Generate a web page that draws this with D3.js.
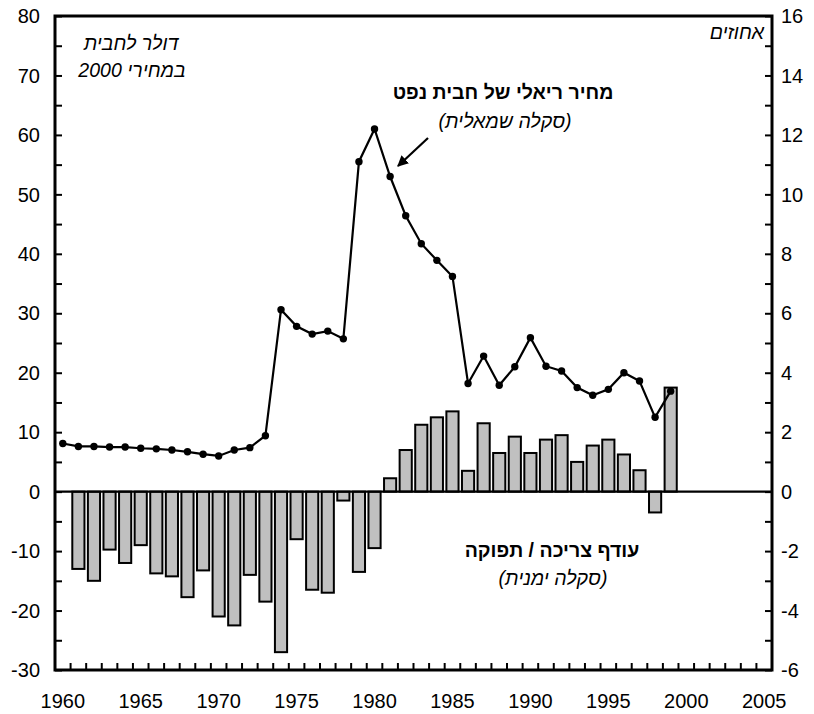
<!DOCTYPE html>
<html>
<head>
<meta charset="utf-8">
<script src="https://cdn.jsdelivr.net/npm/d3@7"></script>
<style>
  body { margin: 0; background: #fff; }
  svg text { font-family: "Liberation Sans", Arial, sans-serif; fill: #000; }
  .tick-label { font-size: 20px; }
  .note { font-size: 19.5px; font-style: italic; }
  .title { font-size: 19.5px; font-weight: bold; }
</style>
</head>
<body>
<svg id="chart"></svg>
<script>
/* global d3 */
const W = 814;
const H = 714;
const MARGIN = { top: 16, bottom: 44, left: 55, right: 42 };

// categories (slots on the x axis)
const years = d3.range(1960, 2006);
const labelYears = [1960, 1965, 1970, 1975, 1980, 1985, 1990, 1995, 2000, 2005];

// real price per barrel, 2000 dollars (left scale) 1960-1999
const priceYears = d3.range(1960, 2000);
const price = [
  8.1, 7.6, 7.6, 7.5, 7.5, 7.3, 7.2, 7.0, 6.7, 6.3,
  6.0, 7.0, 7.4, 9.4, 30.6, 27.8, 26.5, 27.0, 25.7, 55.5,
  61.0, 53.0, 46.4, 41.7, 38.9, 36.2, 18.2, 22.8, 17.9, 21.0,
  25.9, 21.1, 20.3, 17.5, 16.2, 17.2, 20.0, 18.6, 12.5, 16.9
];

// excess demand / supply, percent (right scale) 1961-1999
const gapYears = d3.range(1961, 2000);
const gap = [
  -2.6, -3.0, -1.95, -2.4, -1.8, -2.75, -2.85, -3.55, -2.65, -4.2,
  -4.5, -2.8, -3.7, -5.4, -1.6, -3.3, -3.4, -0.3, -2.7, -1.9,
  0.45, 1.4, 2.25, 2.5, 2.7, 0.7, 2.3, 1.3, 1.85, 1.3,
  1.75, 1.9, 1.0, 1.55, 1.75, 1.25, 0.72, -0.7, 3.5
];

const leftTicks = d3.range(-30, 81, 10);
const rightTicks = d3.range(-6, 17, 2);

const width = W - MARGIN.left - MARGIN.right;
const height = H - MARGIN.top - MARGIN.bottom;

const $svg = d3.select('#chart').attr('width', W).attr('height', H);

function getScaleX() {
  return d3.scaleBand()
    .domain(years)
    .range([MARGIN.left, MARGIN.left + width])
    .paddingInner(0.22)
    .paddingOuter(0.11);
}

function getSlotX() {
  return d3.scaleBand()
    .domain(years)
    .range([MARGIN.left, MARGIN.left + width]);
}

function getScaleLeft() {
  return d3.scaleLinear().domain([-30, 80]).range([MARGIN.top + height, MARGIN.top]);
}

function getScaleRight() {
  return d3.scaleLinear().domain([-6, 16]).range([MARGIN.top + height, MARGIN.top]);
}

function drawBars(scaleX, scaleR) {
  const data = gapYears.map((y, i) => ({ year: y, value: gap[i] }));
  $svg.append('g').attr('class', 'bars')
    .selectAll('rect')
    .data(data)
    .join('rect')
    .attr('x', d => scaleX(d.year))
    .attr('width', scaleX.bandwidth())
    .attr('y', d => scaleR(Math.max(0, d.value)))
    .attr('height', d => Math.abs(scaleR(d.value) - scaleR(0)))
    .attr('fill', '#c0c0c0')
    .attr('stroke', '#000')
    .attr('stroke-width', 2);
}

function drawLine(slotX, scaleL) {
  const data = priceYears.map((y, i) => ({ year: y, value: price[i] }));
  const cx = d => slotX(d.year) + slotX.bandwidth() / 2;
  const line = d3.line().x(cx).y(d => scaleL(d.value));

  const $g = $svg.append('g').attr('class', 'price');
  $g.append('path')
    .datum(data)
    .attr('d', line)
    .attr('fill', 'none')
    .attr('stroke', '#000')
    .attr('stroke-width', 2.2);

  $g.selectAll('circle')
    .data(data)
    .join('circle')
    .attr('cx', cx)
    .attr('cy', d => scaleL(d.value))
    .attr('r', 3.7)
    .attr('fill', '#000');
}

function drawAxes(slotX, scaleL, scaleR) {
  const x0 = MARGIN.left;
  const x1 = MARGIN.left + width;
  const y0 = MARGIN.top;
  const y1 = MARGIN.top + height;
  const TICK = 7;

  // zero line
  $svg.append('line')
    .attr('x1', x0).attr('x2', x1)
    .attr('y1', scaleL(0)).attr('y2', scaleL(0))
    .attr('stroke', '#000').attr('stroke-width', 2.4);

  // left axis: inner ticks every 5, labels every 10
  const $left = $svg.append('g')
    .attr('transform', `translate(${x0},0)`)
    .call(d3.axisRight(scaleL).tickValues(d3.range(-30, 81, 5)).tickSize(TICK).tickFormat(''));
  $left.selectAll('text').remove();

  $svg.append('g').selectAll('text')
    .data(leftTicks)
    .join('text')
    .attr('class', 'tick-label')
    .attr('x', x0 - 15)
    .attr('y', d => scaleL(d))
    .attr('dy', '0.36em')
    .attr('text-anchor', 'end')
    .text(d => d);

  // right axis: inner ticks every 1, labels every 2
  $svg.append('g')
    .attr('transform', `translate(${x1},0)`)
    .call(d3.axisLeft(scaleR).tickValues(d3.range(-6, 17, 1)).tickSize(TICK).tickFormat(''));

  $svg.append('g').selectAll('text')
    .data(rightTicks)
    .join('text')
    .attr('class', 'tick-label')
    .attr('x', x1 + 9)
    .attr('y', d => scaleR(d))
    .attr('dy', '0.36em')
    .attr('text-anchor', 'start')
    .text(d => d);

  // bottom axis: ticks at slot boundaries
  $svg.append('g').selectAll('line')
    .data(years.slice(1))
    .join('line')
    .attr('x1', d => slotX(d)).attr('x2', d => slotX(d))
    .attr('y1', y1).attr('y2', y1 - TICK)
    .attr('stroke', '#000').attr('stroke-width', 2);

  $svg.append('g').selectAll('text')
    .data(labelYears)
    .join('text')
    .attr('class', 'tick-label')
    .attr('x', d => slotX(d) + slotX.bandwidth() / 2)
    .attr('y', y1 + 38)
    .attr('text-anchor', 'middle')
    .text(d => d);

  $svg.selectAll('.domain').remove();
  $svg.selectAll('.tick line').attr('stroke-width', 2);

  // frame
  $svg.append('rect')
    .attr('x', x0).attr('y', y0)
    .attr('width', width).attr('height', height)
    .attr('fill', 'none')
    .attr('stroke', '#000')
    .attr('stroke-width', 3);
}

function drawNotes() {
  const addText = (txt, x, y, cls) => $svg.append('text')
    .attr('class', cls)
    .attr('x', x).attr('y', y)
    .attr('direction', 'rtl')
    .attr('text-anchor', 'middle')
    .text(txt);

  addText('דולר לחבית', 131, 50, 'note');
  addText('במחירי 2000', 132, 77, 'note');

  $svg.append('text')
    .attr('class', 'note')
    .attr('x', 764).attr('y', 39)
    .attr('direction', 'rtl')
    .attr('text-anchor', 'start')
    .text('אחוזים');

  addText('מחיר ריאלי של חבית נפט', 503, 99, 'title');
  addText('(סקלה שמאלית)', 505, 128, 'note');

  addText('עודף צריכה / תפוקה', 552, 557, 'title');
  addText('(סקלה ימנית)', 553, 585, 'note');

  // arrow toward the 1981 point
  $svg.append('defs').append('marker')
    .attr('id', 'arrow')
    .attr('viewBox', '0 0 10 10')
    .attr('refX', 9).attr('refY', 5)
    .attr('markerWidth', 5).attr('markerHeight', 5)
    .attr('orient', 'auto')
    .append('path')
    .attr('d', 'M0,0 L10,5 L0,10 z')
    .attr('fill', '#000');

  $svg.append('line')
    .attr('x1', 428).attr('y1', 138)
    .attr('x2', 398).attr('y2', 166)
    .attr('stroke', '#000').attr('stroke-width', 2.2)
    .attr('marker-end', 'url(#arrow)');
}

function init() {
  const scaleX = getScaleX();
  const slotX = getSlotX();
  const scaleL = getScaleLeft();
  const scaleR = getScaleRight();
  drawBars(scaleX, scaleR);
  drawAxes(slotX, scaleL, scaleR);
  drawLine(slotX, scaleL);
  drawNotes();
}

init();
</script>
</body>
</html>
